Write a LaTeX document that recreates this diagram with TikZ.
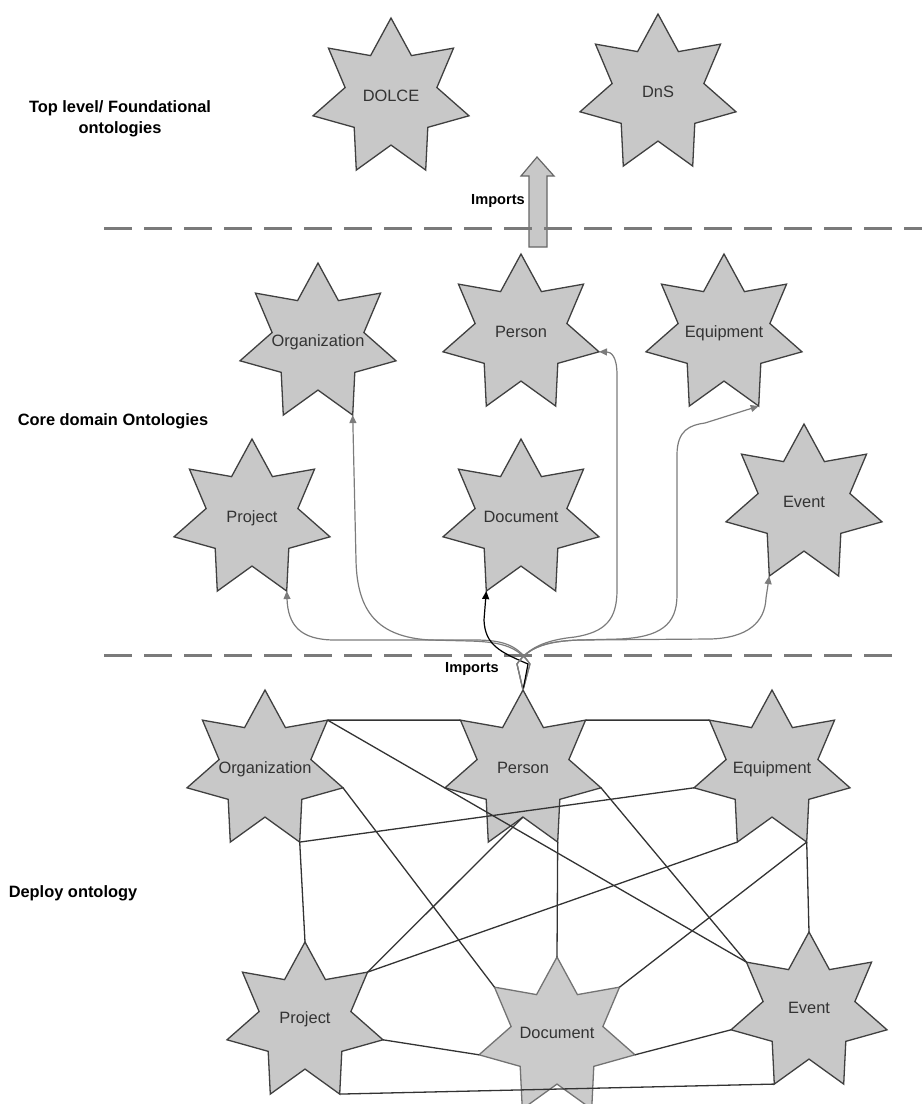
\documentclass[tikz,border=0pt]{standalone}
\usepackage{fontspec}
\setmainfont{Liberation Sans}
\usepackage{tikz}
\usetikzlibrary{shapes.geometric,arrows.meta}
\definecolor{starfill}{HTML}{C8C8C8}
\definecolor{starline}{HTML}{404040}
\definecolor{layergray}{HTML}{7A7A7A}
\definecolor{impgray}{HTML}{7C7C7C}

\begin{document}
\begin{tikzpicture}[x=0.5pt, y=0.5pt,
    onto/.style = {star, star points=7, star point ratio=1.7, minimum size=80pt,
                   inner sep=0pt, outer sep=0pt, draw=starline, fill=starfill, line width=0.65pt},
    lbl/.style = {font=\fontsize{8.2}{10}\selectfont, text=black!80, inner sep=0pt,
                  text height=5.9pt, text depth=0pt},
    grp/.style = {font=\bfseries\fontsize{8.2}{10.5}\selectfont, align=center, inner sep=0pt},
    imp/.style = {draw=impgray, line width=0.6pt, -{Triangle[length=4pt, width=3.5pt]}},
    link/.style = {draw=black!80, line width=0.65pt},
    layer/.style = {draw=layergray, line width=1.5pt, dash pattern=on 14pt off 6pt}]

    % Frame
    \useasboundingbox (0,0) rectangle (922,-1104);

    % Block arrow
    \draw[fill=starfill, draw=black!60, line width=0.6pt] (529,-247) -- (529,-176) -- (521,-176)
        -- (537,-157) -- (554,-176) -- (547,-176) -- (547,-247) -- cycle;

    % Layer separators
    \draw[layer] (104,-228) -- (922,-228);
    \draw[layer] (104,-655) -- (901,-655);

    % Layer names
    \node[grp] (top-g) at (120,-119) {Top level/ Foundational\\ontologies};
    \node[grp] (core-g) at (113,-421) {Core domain Ontologies};
    \node[grp] (dep-g) at (73,-893) {Deploy ontology};
    \node[grp, font=\bfseries\fontsize{7.3}{9}\selectfont] (imp-a) at (498,-201) {Imports};
    \node[grp, font=\bfseries\fontsize{7.3}{9}\selectfont] (imp-b) at (472,-669) {Imports};

    % Top level ontologies
    \node[onto] (dolce) at (391,-98) {};
    \node[onto] (dns) at (658,-94) {};

    % Core domain ontologies
    \node[onto] (corg) at (318,-343) {};
    \node[onto] (cper) at (521,-334) {};
    \node[onto] (cequ) at (724,-334) {};
    \node[onto] (cprj) at (252,-519) {};
    \node[onto] (cdoc) at (521,-519) {};
    \node[onto] (cevt) at (804,-504) {};

    % Deploy ontology
    \node[onto] (dorg) at (265,-770) {};
    \node[onto] (dper) at (523,-770) {};
    \node[onto] (dequ) at (772,-770) {};
    \node[onto] (dprj) at (305,-1022) {};
    \node[onto, draw=black!55, fill=starfill!95!white] (ddoc) at (557,-1037) {};
    \node[onto] (devt) at (809,-1012) {};

    % Names
    \node[lbl] (dolce-t) at ([yshift=1.2pt]dolce) {DOLCE};
    \node[lbl] (dns-t) at ([yshift=1.2pt]dns) {DnS};
    \node[lbl] (corg-t) at ([yshift=1pt]corg) {Organization};
    \node[lbl] (cper-t) at ([yshift=1.2pt]cper) {Person};
    \node[lbl] (cequ-t) at ([yshift=1.2pt]cequ) {Equipment};
    \node[lbl] (cprj-t) at ([yshift=1pt]cprj) {Project};
    \node[lbl] (cdoc-t) at ([yshift=1pt]cdoc) {Document};
    \node[lbl] (cevt-t) at ([yshift=1pt]cevt) {Event};
    \node[lbl] (dorg-t) at ([yshift=1pt]dorg) {Organization};
    \node[lbl] (dper-t) at ([yshift=1pt]dper) {Person};
    \node[lbl] (dequ-t) at ([yshift=1pt]dequ) {Equipment};
    \node[lbl] (dprj-t) at ([yshift=2pt]dprj) {Project};
    \node[lbl] (ddoc-t) at ([yshift=2pt]ddoc) {Document};
    \node[lbl] (devt-t) at ([yshift=2pt]devt) {Event};

    % Imports from the deploy ontology
    \draw[imp] (dper.outer point 1) -- (530,-664) .. controls (518,-646) and (505,-640) .. (475,-640)
        -- (335,-640) .. controls (300,-640) and (288,-625) .. (cprj.outer point 5);
    \draw[imp] (dper.outer point 1) -- (530,-664) .. controls (518,-648) and (505,-642) .. (470,-641)
        -- (430,-640) .. controls (378,-637) and (357,-612) .. (356,-560) -- (corg.outer point 5);
    \draw[imp, draw=black] (dper.outer point 1) -- (528,-664) .. controls (500,-652) and (485,-645)
        .. (484,-620) -- (cdoc.outer point 4);
    \draw[imp] (dper.outer point 1) -- (517,-664) .. controls (528,-648) and (545,-640) .. (575,-637)
        .. controls (605,-632) and (617,-620) .. (617,-590) -- (617,-375)
        .. controls (617,-356) and (611,-352) .. (cper.outer point 6);
    \draw[imp] (dper.outer point 1) -- (517,-664) .. controls (528,-648) and (545,-641) .. (580,-640)
        -- (620,-639) .. controls (660,-637) and (677,-625) .. (677,-595) -- (677,-455)
        .. controls (677,-430) and (690,-425) .. (705,-423) -- (cequ.outer point 5);
    \draw[imp] (dper.outer point 1) -- (517,-664) .. controls (528,-648) and (545,-641) .. (580,-640)
        -- (710,-639) .. controls (748,-638) and (765,-622) .. (766,-598) -- (cevt.outer point 4);

    % Links inside the deploy ontology
    \draw[link] (dorg.outer point 7) -- (dper.outer point 2);
    \draw[link] (dper.outer point 7) -- (dequ.outer point 2);
    \draw[link] (dorg.outer point 7) -- (devt.outer point 2);
    \draw[link] (dorg.outer point 6) -- (ddoc.outer point 2);
    \draw[link] (dorg.outer point 5) -- (dprj.outer point 1);
    \draw[link] (dorg.outer point 5) -- (dequ.outer point 3);
    \draw[link] (dper.inner point 4) -- (dprj.outer point 7);
    \draw[link] (dper.outer point 5) -- (ddoc.outer point 1);
    \draw[link] (dper.outer point 6) -- (devt.outer point 2);
    \draw[link] (dequ.outer point 5) -- (devt.outer point 1);
    \draw[link] (dequ.outer point 5) -- (ddoc.outer point 7);
    \draw[link] (dequ.outer point 4) -- (dprj.outer point 7);
    \draw[link] (dprj.outer point 6) -- (ddoc.outer point 3);
    \draw[link] (ddoc.outer point 6) -- (devt.outer point 3);
    \draw[link] (dprj.outer point 5) -- (devt.outer point 4);
\end{tikzpicture}
\end{document}
